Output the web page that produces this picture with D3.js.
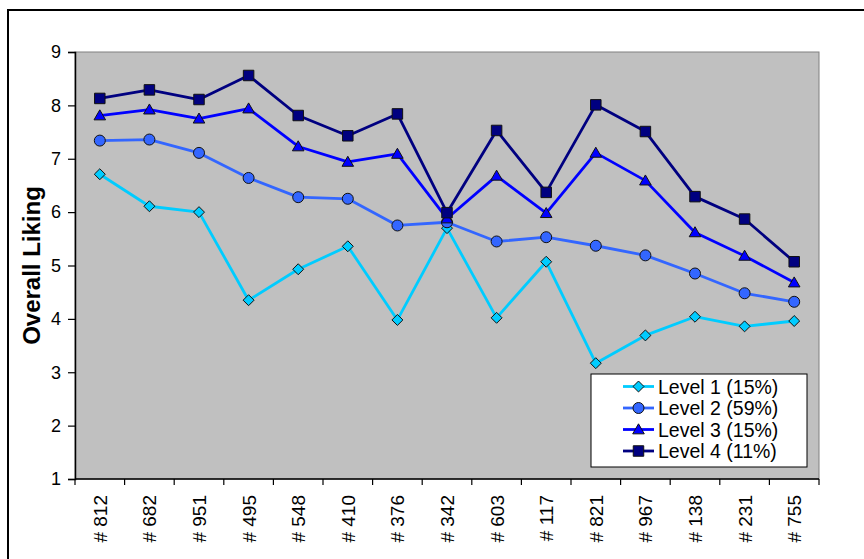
<!DOCTYPE html>
<html>
<head>
<meta charset="utf-8">
<script src="https://cdn.jsdelivr.net/npm/d3@7"></script>
<style>
  html, body { margin: 0; padding: 0; background: #fff; }
  svg { display: block; font-family: "Liberation Sans", Arial, sans-serif; }
</style>
</head>
<body>
<svg id="chart" width="864" height="559"></svg>
<script>
// Sample codes along the x axis
const categories = ["# 812", "# 682", "# 951", "# 495", "# 548", "# 410", "# 376", "# 342",
                    "# 603", "# 117", "# 821", "# 967", "# 138", "# 231", "# 755"];

// Mean overall liking per segment
const level1 = [6.71, 6.11, 6.00, 4.35, 4.93, 5.36, 3.98, 5.70, 4.02, 5.07, 3.17, 3.69, 4.04, 3.86, 3.96];
const level2 = [7.34, 7.36, 7.11, 6.64, 6.28, 6.25, 5.75, 5.81, 5.45, 5.53, 5.37, 5.19, 4.85, 4.48, 4.32];
const level3 = [7.81, 7.92, 7.75, 7.94, 7.23, 6.94, 7.09, 5.88, 6.68, 5.98, 7.11, 6.59, 5.62, 5.18, 4.68];
const level4 = [8.13, 8.29, 8.11, 8.56, 7.81, 7.43, 7.84, 5.99, 7.53, 6.37, 8.01, 7.51, 6.29, 5.87, 5.07];

const seriesNames = ["Level 1 (15%)", "Level 2 (59%)", "Level 3 (15%)", "Level 4 (11%)"];
const yTicks = [1, 2, 3, 4, 5, 6, 7, 8, 9];

// Excel-style diamond: a square turned 45 degrees
const symbolDiamondSquare = {
  draw(ctx, size) {
    const r = Math.sqrt(size / 2);
    ctx.moveTo(0, -r); ctx.lineTo(r, 0); ctx.lineTo(0, r); ctx.lineTo(-r, 0); ctx.closePath();
  }
};

const series = [
  { name: seriesNames[0], values: level1, color: "#00ccff", symbol: symbolDiamondSquare, size: 60, dy: 0 },
  { name: seriesNames[1], values: level2, color: "#3366ff", symbol: d3.symbolCircle, size: 95, dy: 0 },
  { name: seriesNames[2], values: level3, color: "#0000ff", symbol: d3.symbolTriangle, size: 58, dy: 1 },
  { name: seriesNames[3], values: level4, color: "#000080", symbol: d3.symbolSquare, size: 110, dy: 0 }
];

const svg = d3.select("#chart");
const plot = { left: 75, top: 52, right: 819, bottom: 479 };
const FONT = "'Liberation Sans', Arial, sans-serif";

// Outer chart frame (extends past the right and bottom edges)
svg.append("rect")
  .attr("x", 8).attr("y", 10).attr("width", 900).attr("height", 600)
  .attr("fill", "#fff").attr("stroke", "#000").attr("stroke-width", 2);

const x = d3.scaleBand().domain(categories).range([plot.left, plot.right]).padding(0);
const y = d3.scaleLinear().domain([1, 9]).range([plot.bottom, plot.top]);

// Plot area
svg.append("rect")
  .attr("x", plot.left).attr("y", plot.top)
  .attr("width", plot.right - plot.left).attr("height", plot.bottom - plot.top)
  .attr("fill", "#c0c0c0").attr("stroke", "#808080").attr("stroke-width", 1);

// Y axis
const yAxis = svg.append("g")
  .attr("transform", `translate(${plot.left},0)`)
  .call(d3.axisLeft(y).tickValues(yTicks).tickSize(7).tickPadding(7).tickFormat(d3.format("d")));
yAxis.attr("font-size", 18).attr("font-family", FONT);
yAxis.select(".domain").attr("stroke", "#000").attr("stroke-width", 1.5);
yAxis.selectAll(".tick line").attr("stroke", "#000").attr("stroke-width", 1.2);
yAxis.selectAll(".tick text").attr("font-size", 18).attr("fill", "#000");

// X axis: ticks at the category boundaries
const xAxis = svg.append("g")
  .attr("transform", `translate(0,${plot.bottom})`);
xAxis.append("line")
  .attr("x1", plot.left).attr("x2", plot.right)
  .attr("stroke", "#000").attr("stroke-width", 1.5);
const boundaries = categories.map(c => x(c)).concat([x(categories[categories.length - 1]) + x.bandwidth()]);
xAxis.selectAll("line.tick").data(boundaries).join("line")
  .attr("class", "tick")
  .attr("x1", d => d).attr("x2", d => d)
  .attr("y1", 0).attr("y2", 6)
  .attr("stroke", "#000").attr("stroke-width", 1.2);
xAxis.selectAll("text").data(categories).join("text")
  .attr("transform", d => `translate(${x(d) + x.bandwidth() / 2 + 7},16) rotate(-90)`)
  .attr("text-anchor", "end")
  .attr("font-size", 19)
  .attr("fill", "#000")
  .text(d => d);

// Y axis title
svg.append("text")
  .attr("transform", `translate(40,${(plot.top + plot.bottom) / 2}) rotate(-90)`)
  .attr("text-anchor", "middle")
  .attr("font-size", 24).attr("font-weight", "bold").attr("fill", "#000")
  .text("Overall Liking");

// Series lines and markers
const cx = c => x(c) + x.bandwidth() / 2;
const line = d3.line().x((d, i) => cx(categories[i])).y(d => y(d));

series.forEach(s => {
  const g = svg.append("g");
  g.append("path")
    .attr("d", line(s.values))
    .attr("fill", "none").attr("stroke", s.color)
    .attr("stroke-width", 2.8).attr("stroke-linejoin", "round");
  g.selectAll("path.mark").data(s.values).join("path")
    .attr("class", "mark")
    .attr("transform", (d, i) => `translate(${cx(categories[i])},${y(d) + s.dy})`)
    .attr("d", d3.symbol().type(s.symbol).size(s.size))
    .attr("fill", s.color).attr("stroke", "#111").attr("stroke-width", 1);
});

// Legend
const lg = svg.append("g").attr("transform", "translate(591,374)");
lg.append("rect").attr("width", 216).attr("height", 93)
  .attr("fill", "#fff").attr("stroke", "#000").attr("stroke-width", 1);
series.forEach((s, i) => {
  const row = lg.append("g").attr("transform", `translate(0,${12.5 + i * 21.5})`);
  row.append("line").attr("x1", 32).attr("x2", 63)
    .attr("stroke", s.color).attr("stroke-width", 2.8);
  row.append("path")
    .attr("transform", `translate(47.5,${s.dy})`)
    .attr("d", d3.symbol().type(s.symbol).size(s.size))
    .attr("fill", s.color).attr("stroke", "#111").attr("stroke-width", 1);
  row.append("text").attr("x", 67).attr("y", 7)
    .attr("font-size", 19.5).attr("fill", "#000")
    .text(s.name);
});
</script>
</body>
</html>
